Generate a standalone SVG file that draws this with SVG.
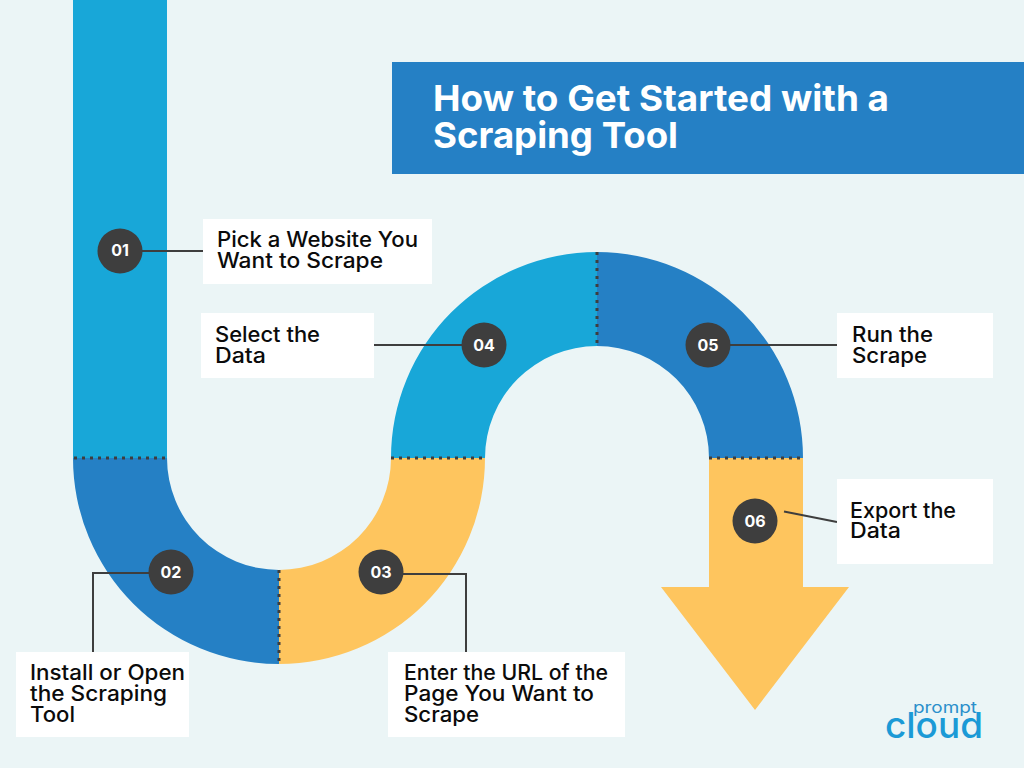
<svg xmlns="http://www.w3.org/2000/svg" width="1024" height="768" viewBox="0 0 1024 768">
<style>
.lbl{font-family:"Inter","Liberation Sans",sans-serif;font-size:21px;font-weight:500;fill:#0b0b0b}
.num{font-family:"Inter","Liberation Sans",sans-serif;font-size:16px;font-weight:700;fill:#fff;text-anchor:middle}
.ttl{font-family:"Inter","Liberation Sans",sans-serif;font-size:36px;font-weight:700;fill:#fff}
.box{fill:#fff}
.dot{fill:#3e3e3e}
.con{fill:none;stroke:#3e3e3e;stroke-width:2}
.sep{fill:none;stroke:#3e3e3e;stroke-width:3;stroke-dasharray:3 5}
</style>
<rect width="1024" height="768" fill="#ebf5f6"/>
<g id="ribbon">
<path d="M73 0H167V458H73Z" fill="#18a7d8"/>
<path d="M73 458H167A112 112 0 0 0 279 570V664A206 206 0 0 1 73 458Z" fill="#2580c5"/>
<path d="M279 570A112 112 0 0 0 391 458H485A206 206 0 0 1 279 664Z" fill="#fec55e"/>
<path d="M391 458A206 206 0 0 1 597 252V346A112 112 0 0 0 485 458Z" fill="#18a7d8"/>
<path d="M597 252A206 206 0 0 1 803 458H709A112 112 0 0 0 597 346Z" fill="#2580c5"/>
<path d="M709 458H803V587H849L755 710L661 587H709Z" fill="#fec55e"/>
</g>
<g id="separators">
<path class="sep" d="M74 458H167"/>
<path class="sep" d="M279 570V664"/>
<path class="sep" d="M391 458H485"/>
<path class="sep" d="M597 252V346"/>
<path class="sep" d="M709 458H803"/>
</g>
<g id="title">
<rect x="392" y="62" width="632" height="112" fill="#2580c5"/>
<text class="ttl" x="433" y="111" textLength="456" lengthAdjust="spacingAndGlyphs">How to Get Started with a</text>
<text class="ttl" x="433" y="148" textLength="245" lengthAdjust="spacingAndGlyphs">Scraping Tool</text>
</g>
<g id="connectors">
<path class="con" d="M120 251H203"/>
<path class="con" d="M171 573H93V652"/>
<path class="con" d="M381 574H466V652"/>
<path class="con" d="M374 345H484"/>
<path class="con" d="M708 345H837"/>
<path class="con" d="M784 511.500L837 522"/>
</g>
<g id="step1">
<rect class="box" x="203" y="219" width="229" height="65"/>
<text class="lbl" x="217" y="247" textLength="201" lengthAdjust="spacingAndGlyphs">Pick a Website You</text>
<text class="lbl" x="217" y="268" textLength="166" lengthAdjust="spacingAndGlyphs">Want to Scrape</text>
<circle class="dot" cx="120" cy="251" r="22.500"/><text class="num" x="120" y="256">01</text>
</g>
<g id="step2">
<rect class="box" x="16" y="652" width="173" height="85"/>
<text class="lbl" x="30" y="680" textLength="155" lengthAdjust="spacingAndGlyphs">Install or Open</text>
<text class="lbl" x="30" y="701" textLength="137" lengthAdjust="spacingAndGlyphs">the Scraping</text>
<text class="lbl" x="30" y="722" textLength="45" lengthAdjust="spacingAndGlyphs">Tool</text>
<circle class="dot" cx="171" cy="572" r="22.500"/><text class="num" x="171" y="577.500">02</text>
</g>
<g id="step3">
<rect class="box" x="388" y="652" width="237" height="85"/>
<text class="lbl" x="404" y="680" textLength="204" lengthAdjust="spacingAndGlyphs">Enter the URL of the</text>
<text class="lbl" x="404" y="701" textLength="190" lengthAdjust="spacingAndGlyphs">Page You Want to</text>
<text class="lbl" x="404" y="722" textLength="75" lengthAdjust="spacingAndGlyphs">Scrape</text>
<circle class="dot" cx="381" cy="572" r="22.500"/><text class="num" x="381" y="577.500">03</text>
</g>
<g id="step4">
<rect class="box" x="201" y="313" width="173" height="65"/>
<text class="lbl" x="215" y="342" textLength="105" lengthAdjust="spacingAndGlyphs">Select the</text>
<text class="lbl" x="215" y="363" textLength="51" lengthAdjust="spacingAndGlyphs">Data</text>
<circle class="dot" cx="484" cy="345" r="22.500"/><text class="num" x="484" y="350.500">04</text>
</g>
<g id="step5">
<rect class="box" x="837" y="313" width="156" height="65"/>
<text class="lbl" x="852" y="342" textLength="81" lengthAdjust="spacingAndGlyphs">Run the</text>
<text class="lbl" x="852" y="363" textLength="75" lengthAdjust="spacingAndGlyphs">Scrape</text>
<circle class="dot" cx="708" cy="345" r="22.500"/><text class="num" x="708" y="350.500">05</text>
</g>
<g id="step6">
<rect class="box" x="837" y="479" width="156" height="85"/>
<text class="lbl" x="850" y="518" textLength="106" lengthAdjust="spacingAndGlyphs">Export the</text>
<text class="lbl" x="850" y="538" textLength="51" lengthAdjust="spacingAndGlyphs">Data</text>
<circle class="dot" cx="755" cy="521" r="22.500"/><text class="num" x="755" y="526.500">06</text>
</g>
<g id="logo">
<text x="913" y="713" font-family="Inter,'Liberation Sans',sans-serif" font-size="16" font-weight="400" fill="#2a8fcb" textLength="64" lengthAdjust="spacingAndGlyphs">prompt</text>
<text x="885" y="738" font-family="Inter,'Liberation Sans',sans-serif" font-size="36" font-weight="500" fill="#1b9ad6" textLength="98" lengthAdjust="spacingAndGlyphs">cloud</text>
</g>
</svg>
